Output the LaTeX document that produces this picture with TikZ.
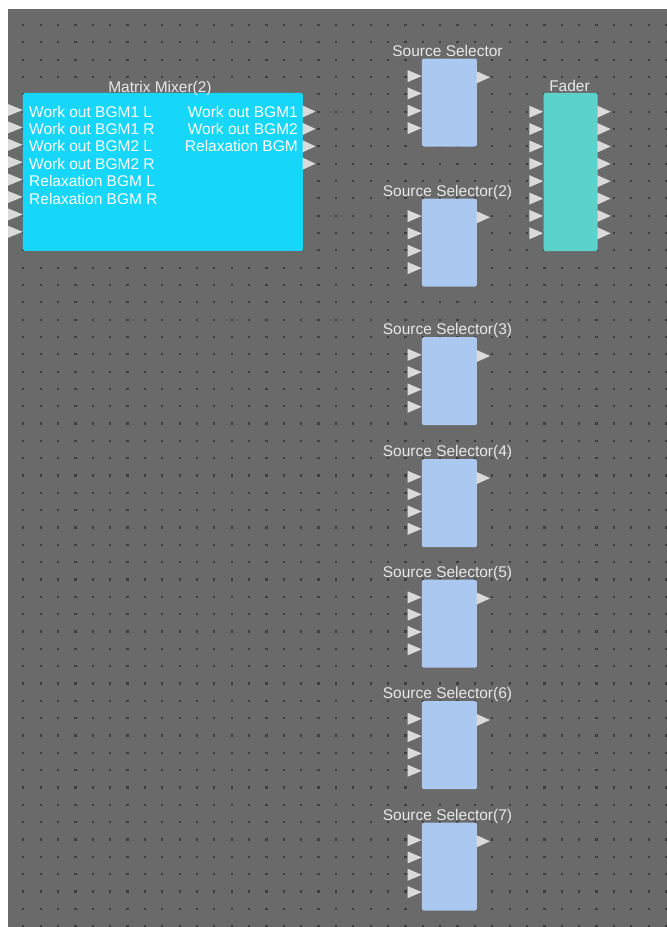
\documentclass[tikz,border=0pt]{standalone}
\usepackage{fontspec}
\setmainfont{Liberation Sans}
\definecolor{bggray}{RGB}{106,106,106}
\definecolor{dotgray}{RGB}{62,62,62}
\definecolor{mixcyan}{RGB}{22,214,250}
\definecolor{ssblue}{RGB}{170,200,240}
\definecolor{fadteal}{RGB}{92,210,205}
\definecolor{portgray}{RGB}{218,218,218}
\definecolor{titlegray}{RGB}{232,232,232}
\tikzset{
  dotmark/.style={fill=dotgray},
  portfill/.style={fill=portgray},
  blockbox/.style={inner sep=0pt, draw=none, rounded corners=1.5pt},
  mixbox/.style={blockbox, fill=mixcyan, minimum width=280pt, minimum height=158pt},
  ssbox/.style={blockbox, fill=ssblue, minimum width=55pt, minimum height=88pt},
  fadbox/.style={blockbox, fill=fadteal, minimum width=54pt, minimum height=158.3pt},
  titletext/.style={text=titlegray, inner sep=0pt, font=\fontsize{15.5}{17}\selectfont},
  labeltext/.style={text=white, inner sep=0pt, font=\fontsize{15.5}{17}\selectfont},
}
\begin{document}
\begin{tikzpicture}[x=1pt,y=-1pt]
\useasboundingbox (0,0) rectangle (667,927);
\fill[white] (0,0) rectangle (667,927);
\fill[bggray] (8,9) rectangle (667,927);
% grid dots
\foreach \i in {0,...,37}{
  \foreach \j in {0,...,52}{
    \fill[dotmark] (22.2+17.37*\i, 23.9+17.33*\j) rectangle ++(2.2,2.2);
  }
}
% Matrix Mixer
\node[mixbox, anchor=north west] (mix) at (22.7,92.7) {};
\node[titletext, anchor=base] (mixt) at (160,92) {Matrix Mixer(2)};
\foreach \k in {0,...,7}{
  \fill[portfill] (8,110+17.4*\k-6) -- (22.7,110+17.4*\k) -- (8,110+17.4*\k+6) -- cycle;
}
\foreach \k in {0,...,3}{
  \fill[portfill] (302.7,111.5+17.4*\k-6) -- (315.5,111.5+17.4*\k) -- (302.7,111.5+17.4*\k+6) -- cycle;
}
\node[labeltext, anchor=base west] (l1) at (29,117) {Work out BGM1 L};
\node[labeltext, anchor=base west] (l2) at (29,134.4) {Work out BGM1 R};
\node[labeltext, anchor=base west] (l3) at (29,151.8) {Work out BGM2 L};
\node[labeltext, anchor=base west] (l4) at (29,169.2) {Work out BGM2 R};
\node[labeltext, anchor=base west] (l5) at (29,186.6) {Relaxation BGM L};
\node[labeltext, anchor=base west] (l6) at (29,204) {Relaxation BGM R};
\node[labeltext, anchor=base east] (r1) at (298,117) {Work out BGM1};
\node[labeltext, anchor=base east] (r2) at (298,134.4) {Work out BGM2};
\node[labeltext, anchor=base east] (r3) at (298,151.8) {Relaxation BGM};
% Source selectors
\foreach \t/\n in {58.3/1,198.3/2,337/3,459/4,579.5/5,701/6,822.3/7}{
  \node[ssbox, anchor=north west] (ss\n) at (421.7,\t) {};
  \ifnum\n=1
    \node[titletext, anchor=base] (ss\n t) at (447.5,\t-2.3) {Source Selector};
  \else
    \node[titletext, anchor=base] (ss\n t) at (447.5,\t-2.3) {Source Selector(\n)};
  \fi
  \foreach \k in {0,...,3}{
    \fill[portfill] (407.7,\t+17.8+17.33*\k-6) -- (421.7,\t+17.8+17.33*\k) -- (407.7,\t+17.8+17.33*\k+6) -- cycle;
  }
  \fill[portfill] (476.7,\t+19-6) -- (490,\t+19) -- (476.7,\t+19+6) -- cycle;
}
% Fader
\node[fadbox, anchor=north west] (fad) at (543.3,92.7) {};
\node[titletext, anchor=base] (fadt) at (569.5,91) {Fader};
\foreach \k in {0,...,7}{
  \fill[portfill] (529.3,111.7+17.37*\k-6) -- (543.3,111.7+17.37*\k) -- (529.3,111.7+17.37*\k+6) -- cycle;
  \fill[portfill] (597.3,111.7+17.37*\k-6) -- (610.7,111.7+17.37*\k) -- (597.3,111.7+17.37*\k+6) -- cycle;
}
\end{tikzpicture}
\end{document}
